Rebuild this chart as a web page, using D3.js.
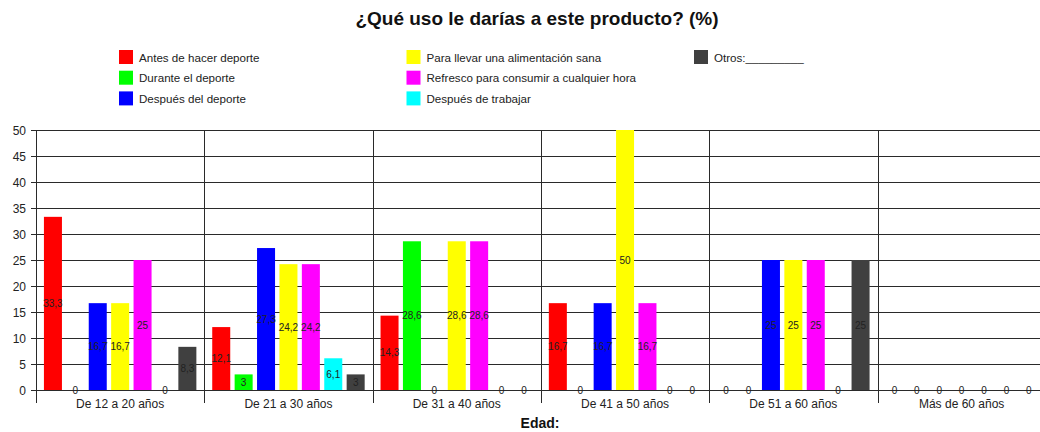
<!DOCTYPE html>
<html>
<head>
<meta charset="utf-8">
<script src="https://cdn.jsdelivr.net/npm/d3@7"></script>
<style>
  html, body { margin: 0; padding: 0; background: #fff; }
  svg { display: block; font-family: Arial, "Liberation Sans", sans-serif; }
</style>
</head>
<body>
<svg id="chart" width="1040" height="432"></svg>
<script>
// Age groups on the x axis
const categories = ["De 12 a 20 años", "De 21 a 30 años", "De 31 a 40 años",
                    "De 41 a 50 años", "De 51 a 60 años", "Más de 60 años"];

// Answer options (series)
const seriesNames = ["Antes de hacer deporte", "Durante el deporte", "Después del deporte",
                     "Para llevar una alimentación sana", "Refresco para consumir a cualquier hora",
                     "Después de trabajar", "Otros:_________"];
const seriesColors = ["#ff0000", "#00ff00", "#0000ff", "#ffff00", "#ff00ff", "#00ffff", "#404040"];

// Percentages per series, one value per age group
const antesDeporte   = [33.3, 12.1, 14.3, 16.7, 0, 0];
const duranteDeporte = [0, 3, 28.6, 0, 0, 0];
const despuesDeporte = [16.7, 27.3, 0, 16.7, 25, 0];
const alimentacion   = [16.7, 24.2, 28.6, 50, 25, 0];
const refresco       = [25, 24.2, 28.6, 16.7, 25, 0];
const despuesTrabajo = [0, 6.1, 0, 0, 0, 0];
const otros          = [8.3, 3, 0, 0, 25, 0];

const yTicks = [0, 5, 10, 15, 20, 25, 30, 35, 40, 45, 50];

const seriesValues = [antesDeporte, duranteDeporte, despuesDeporte, alimentacion,
                      refresco, despuesTrabajo, otros];

const svg = d3.select("#chart");
const W = 1040;
const plot = { left: 36, top: 130, bottom: 390 };
const groupStep = 168.3;

const x0 = d3.scaleBand()
  .domain(categories)
  .range([plot.left, plot.left + groupStep * categories.length])
  .paddingInner(0).paddingOuter(0);

const x1 = d3.scaleBand()
  .domain(d3.range(seriesNames.length))
  .range([0, x0.bandwidth()])
  .paddingInner(0.196).paddingOuter(0.354);

const y = d3.scaleLinear().domain([0, 50]).range([plot.bottom, plot.top]);

const fmt = v => String(v).replace(".", ",");

// Title
svg.append("text")
  .attr("x", 537).attr("y", 25)
  .attr("text-anchor", "middle")
  .attr("font-weight", "bold").attr("font-size", 19)
  .attr("fill", "#111")
  .text("¿Qué uso le darías a este producto? (%)");

// Legend: three columns, three rows
const legend = svg.append("g");
seriesNames.forEach((name, i) => {
  const col = Math.floor(i / 3), row = i % 3;
  const lx = 119 + col * 287.5, ly = 50 + row * 20.7;
  const g = legend.append("g").attr("transform", `translate(${lx},${ly})`);
  g.append("rect").attr("width", 14).attr("height", 14).attr("fill", seriesColors[i]);
  g.append("text").attr("x", 20).attr("y", 11.5)
    .attr("font-size", 11.6).attr("fill", "#222").text(name);
});

// Horizontal grid lines with left tick marks
const grid = svg.append("g").attr("shape-rendering", "crispEdges");
grid.selectAll("line.h").data(yTicks).join("line")
  .attr("x1", plot.left - 5).attr("x2", W)
  .attr("y1", d => Math.round(y(d)) + 0.5).attr("y2", d => Math.round(y(d)) + 0.5)
  .attr("stroke", "#2a2a2a").attr("stroke-width", 1);

// Vertical separators between age groups (including the y axis line)
grid.selectAll("line.v").data(categories).join("line")
  .attr("x1", d => Math.round(x0(d)) + 0.5).attr("x2", d => Math.round(x0(d)) + 0.5)
  .attr("y1", plot.top).attr("y2", plot.bottom + 13)
  .attr("stroke", "#2a2a2a").attr("stroke-width", 1);

// Y axis tick labels
svg.append("g").selectAll("text").data(yTicks).join("text")
  .attr("x", 26).attr("y", d => y(d) + 4.5)
  .attr("text-anchor", "end").attr("font-size", 12).attr("fill", "#222")
  .text(d => d);

// Bars
const groups = svg.append("g").selectAll("g").data(categories).join("g")
  .attr("transform", d => `translate(${x0(d)},0)`);

groups.each(function(cat, ci) {
  const g = d3.select(this);
  const vals = seriesValues.map((s, si) => ({ si, v: s[ci] }));
  g.selectAll("rect").data(vals.filter(d => d.v > 0)).join("rect")
    .attr("x", d => x1(d.si))
    .attr("width", x1.bandwidth())
    .attr("y", d => y(d.v))
    .attr("height", d => y(0) - y(d.v))
    .attr("fill", d => seriesColors[d.si]);
  // Value labels centred on each bar (zero values sit on the baseline)
  g.selectAll("text").data(vals).join("text")
    .attr("x", d => x1(d.si) + x1.bandwidth() / 2)
    .attr("y", d => (y(0) + y(d.v)) / 2 + 3.5)
    .attr("text-anchor", "middle").attr("font-size", 10).attr("fill", "#222")
    .text(d => fmt(d.v));
});

// Category labels
svg.append("g").selectAll("text").data(categories).join("text")
  .attr("x", d => x0(d) + x0.bandwidth() / 2).attr("y", 408)
  .attr("text-anchor", "middle").attr("font-size", 12).attr("fill", "#222")
  .text(d => d);

// X axis title
svg.append("text")
  .attr("x", 540).attr("y", 428)
  .attr("text-anchor", "middle").attr("font-weight", "bold").attr("font-size", 14)
  .attr("fill", "#111")
  .text("Edad:");
</script>
</body>
</html>
